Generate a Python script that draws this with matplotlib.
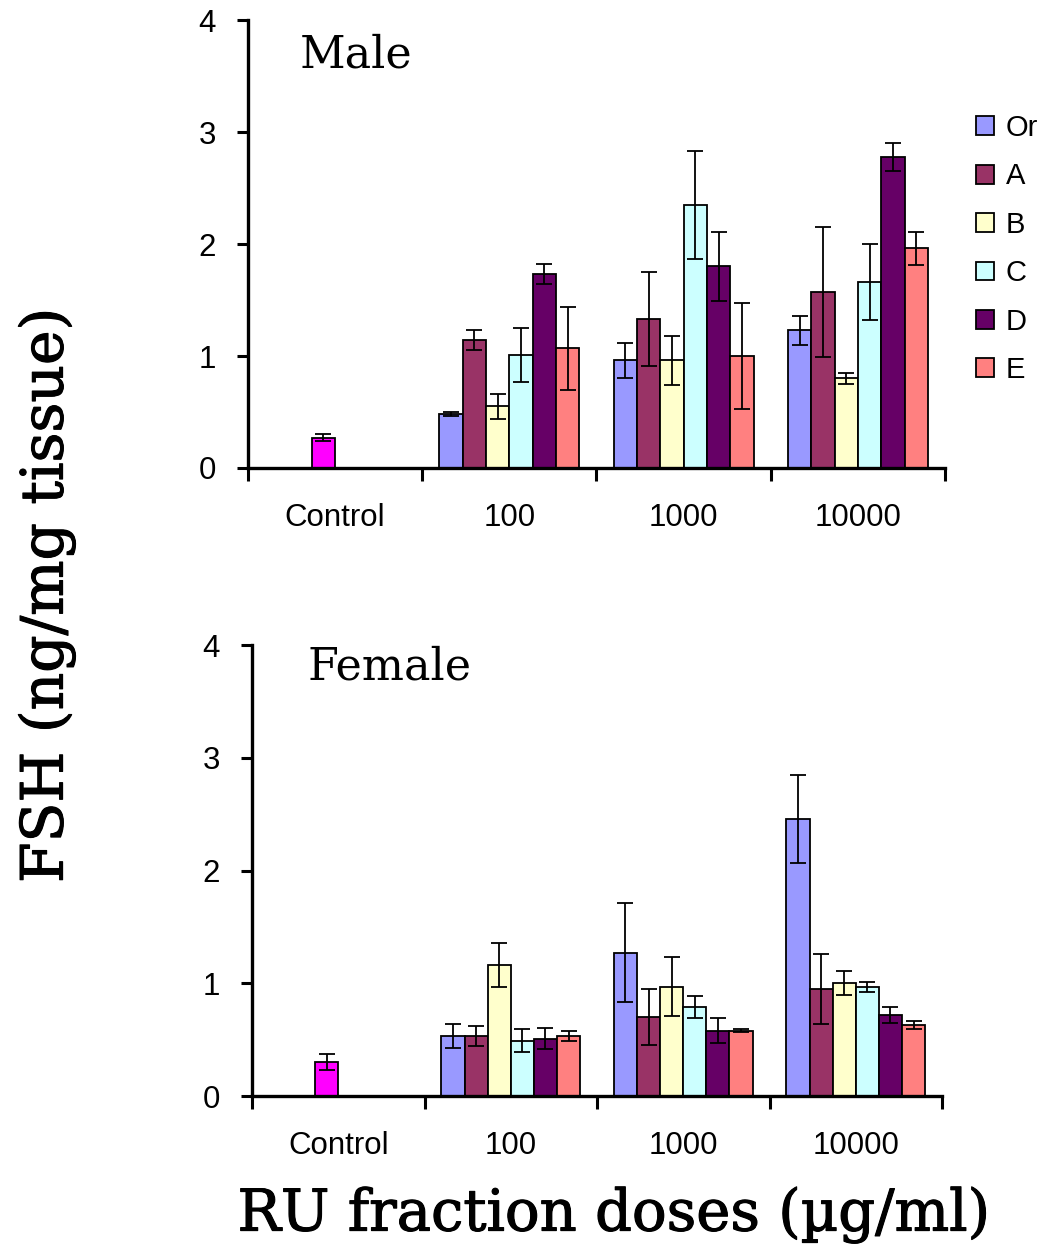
import matplotlib
matplotlib.use("Agg")
import matplotlib.pyplot as plt
import matplotlib.patheffects as pe
from matplotlib.patches import Patch
import numpy as np

categories = ["Control", "100", "1000", "10000"]
series = ["Or", "A", "B", "C", "D", "E"]
colors = ["#9999FF", "#993366", "#FFFFCC", "#CCFFFF", "#660066", "#FF8080"]
control_color = "#FF00FF"

# Male (doses 100, 1000, 10000)
male_control = 0.27
male_control_err = 0.03
male_means = {
    "Or": [0.48, 0.96, 1.23],
    "A": [1.14, 1.33, 1.57],
    "B": [0.55, 0.96, 0.80],
    "C": [1.01, 2.35, 1.66],
    "D": [1.73, 1.80, 2.78],
    "E": [1.07, 1.00, 1.96],
}
male_err = {
    "Or": [0.02, 0.16, 0.13],
    "A": [0.09, 0.42, 0.58],
    "B": [0.11, 0.22, 0.05],
    "C": [0.24, 0.48, 0.34],
    "D": [0.09, 0.31, 0.125],
    "E": [0.37, 0.47, 0.15],
}

# Female
female_control = 0.30
female_control_err = 0.07
female_means = {
    "Or": [0.53, 1.27, 2.46],
    "A": [0.53, 0.70, 0.95],
    "B": [1.165, 0.97, 1.00],
    "C": [0.49, 0.79, 0.97],
    "D": [0.51, 0.58, 0.72],
    "E": [0.53, 0.58, 0.63],
}
female_err = {
    "Or": [0.105, 0.44, 0.39],
    "A": [0.09, 0.25, 0.31],
    "B": [0.195, 0.26, 0.105],
    "C": [0.10, 0.10, 0.045],
    "D": [0.09, 0.11, 0.07],
    "E": [0.045, 0.01, 0.035],
}

fig = plt.figure(figsize=(10.44, 12.51), dpi=100)
ax1 = fig.add_axes([0.2375, 0.6259, 0.6677, 0.3581])
ax2 = fig.add_axes([0.2414, 0.1239, 0.6609, 0.3605])

w = 0.134
sans = ["Liberation Sans", "DejaVu Sans"]
err_kw = dict(ecolor="black", elinewidth=1.3, capsize=6, capthick=1.3)


def draw(ax, ctrl, ctrl_err, means, errs):
    ax.bar(0 + (2 - 2.5) * w, ctrl, w, color=control_color, edgecolor="black",
           linewidth=1.3, zorder=2)
    ax.errorbar(0 + (2 - 2.5) * w, ctrl, yerr=ctrl_err, fmt="none", zorder=3, **err_kw)
    xs = np.arange(1, 4)
    for k, s in enumerate(series):
        pos = xs + (k - 2.5) * w
        ax.bar(pos, means[s], w, color=colors[k], edgecolor="black",
               linewidth=1.3, zorder=2)
        ax.errorbar(pos, means[s], yerr=errs[s], fmt="none", zorder=3, **err_kw)
    ax.set_xlim(-0.5, 3.5)
    ax.set_ylim(0, 4)
    ax.set_yticks([0, 1, 2, 3, 4])
    ax.set_xticks(range(4))
    ax.set_xticklabels(categories)
    ax.set_xticks(np.arange(-0.5, 3.6, 1.0), minor=True)
    ax.tick_params(axis="x", which="major", length=0, pad=25)
    ax.tick_params(axis="x", which="minor", length=9, width=2.2, direction="out")
    ax.tick_params(axis="y", length=8, width=2.2, direction="out", pad=15)
    for lab in ax.get_xticklabels() + ax.get_yticklabels():
        lab.set_fontfamily(sans)
        lab.set_fontsize(22.5)
    for sp in ["top", "right"]:
        ax.spines[sp].set_visible(False)
    for sp in ["left", "bottom"]:
        ax.spines[sp].set_linewidth(2.4)


draw(ax1, male_control, male_control_err, male_means, male_err)
draw(ax2, female_control, female_control_err, female_means, female_err)

serif = ["DejaVu Serif", "Liberation Serif"]
thick_l = [pe.withStroke(linewidth=0.8, foreground="black")]
fig.text(300 / 1044, 1 - 55 / 1251, "Male", family=serif, fontsize=32,
         ha="left", va="center")
fig.text(308 / 1044, 1 - 667 / 1251, "Female", family=serif, fontsize=32,
         ha="left", va="center")

fig.text(47 / 1044, 1 - 595 / 1251, "FSH (ng/mg tissue)", family=serif,
         fontsize=42, rotation=90, ha="center", va="center", path_effects=thick_l)
fig.text(614 / 1044, 1 - 1215 / 1251, "RU fraction doses (\u00b5g/ml)", family=serif,
         fontsize=41.5, ha="center", va="center", path_effects=thick_l)

handles = [Patch(facecolor=c, edgecolor="black", linewidth=1.3) for c in colors]
fig.legend(handles, series, loc="upper left",
           bbox_to_anchor=(976 / 1044, 1 - 114 / 1251), frameon=False,
           prop={"family": sans, "size": 21},
           handlelength=0.62, handleheight=0.62, handletextpad=0.4,
           labelspacing=0.7, borderpad=0, borderaxespad=0)

fig.savefig("out.png", dpi=100)
